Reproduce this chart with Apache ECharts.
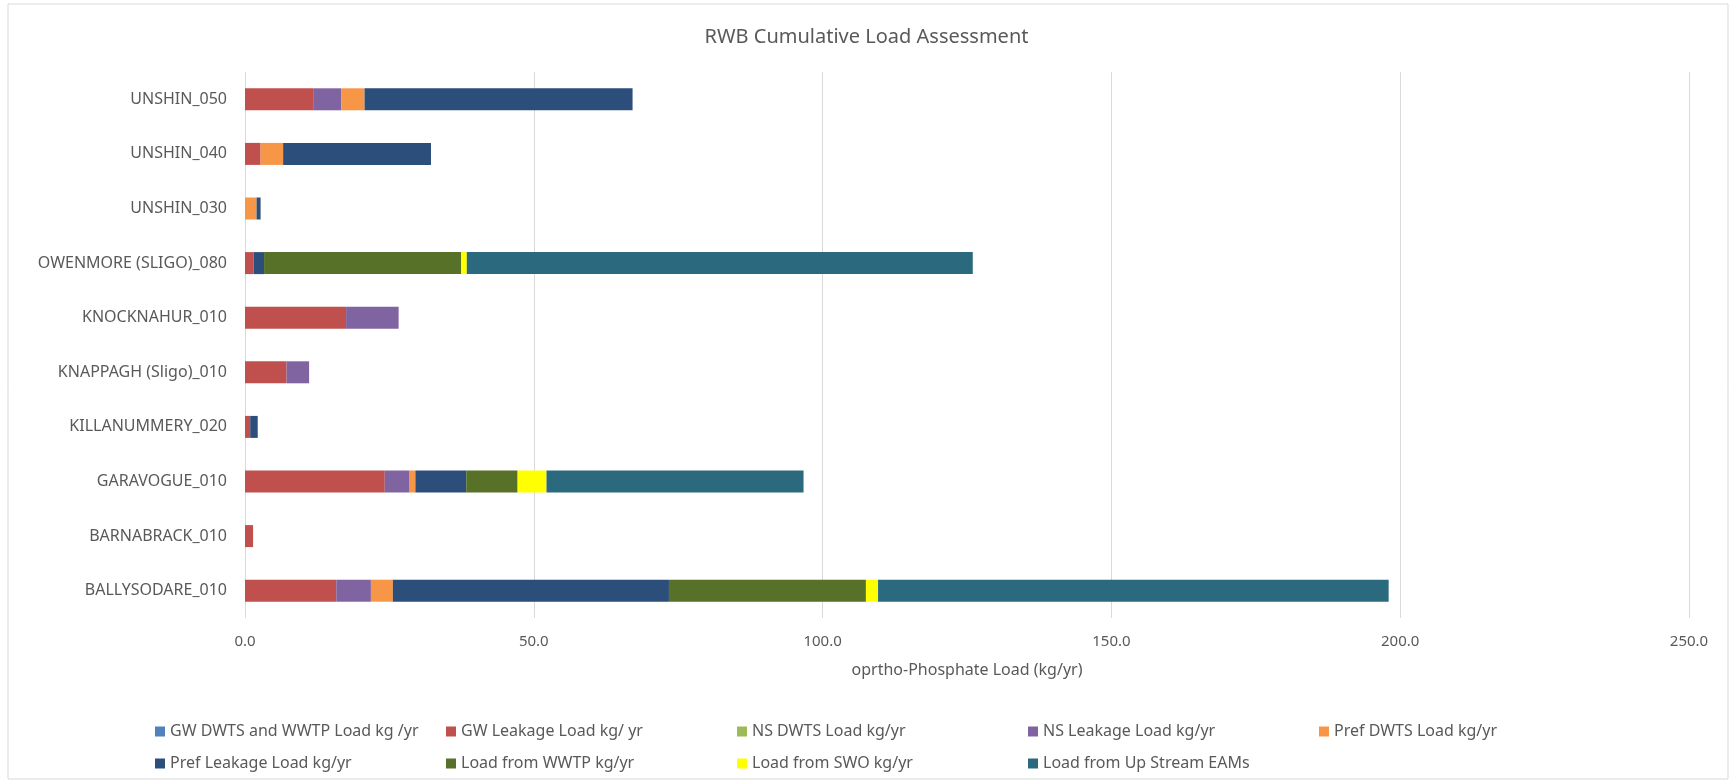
<!DOCTYPE html>
<html>
<head>
<meta charset="utf-8">
<title>RWB Cumulative Load Assessment</title>
<script src="https://cdn.jsdelivr.net/npm/echarts@6/dist/echarts.min.js"></script>
<style>
html, body { margin: 0; padding: 0; background: #fff; }
#chart { width: 1733px; height: 782px; }
</style>
</head>
<body>
<div id="chart"></div>
<script>
// water bodies, bottom to top as in the chart
var categories = ['BALLYSODARE_010', 'BARNABRACK_010', 'GARAVOGUE_010', 'KILLANUMMERY_020',
	'KNAPPAGH (Sligo)_010', 'KNOCKNAHUR_010', 'OWENMORE (SLIGO)_080', 'UNSHIN_030', 'UNSHIN_040', 'UNSHIN_050'];

var gwDwts   = [0, 0, 0, 0, 0, 0, 0, 0, 0, 0];
var gwLeak   = [15.8, 1.4, 24.2, 0.9, 7.2, 17.5, 1.5, 0, 2.7, 11.8];
var nsDwts   = [0, 0, 0, 0, 0, 0, 0, 0, 0, 0];
var nsLeak   = [6.0, 0, 4.3, 0, 3.9, 9.1, 0, 0, 0, 4.9];
var prefDwts = [3.8, 0, 1.0, 0, 0, 0, 0, 2.0, 3.9, 4.0];
var prefLeak = [47.8, 0, 8.8, 1.3, 0, 0, 1.8, 0.7, 25.6, 46.4];
var wwtp     = [34.1, 0, 8.9, 0, 0, 0, 34.1, 0, 0, 0];
var swo      = [2.1, 0, 5.0, 0, 0, 0, 1.0, 0, 0, 0];
var upstream = [88.4, 0, 44.5, 0, 0, 0, 87.6, 0, 0, 0];

var seriesNames = ['GW DWTS and WWTP Load kg /yr', 'GW Leakage Load kg/ yr', 'NS DWTS Load kg/yr',
	'NS Leakage Load kg/yr', 'Pref DWTS Load kg/yr', 'Pref Leakage Load kg/yr',
	'Load from WWTP kg/yr', 'Load from SWO kg/yr', 'Load from Up Stream EAMs'];
var seriesData = [gwDwts, gwLeak, nsDwts, nsLeak, prefDwts, prefLeak, wwtp, swo, upstream];
var colors = ['#4F81BD', '#C0504D', '#9BBB59', '#8064A2', '#F79646', '#2C4E7A', '#587129', '#FFFF00', '#2B6A7E'];

var txt = '#595959';
var font = 'Noto Sans';

var series = [];
for (var i = 0; i < seriesNames.length; i++) {
	series.push({
		name : seriesNames[i],
		type : 'bar',
		stack : 'total',
		barWidth : 22,
		itemStyle : { color : colors[i] },
		data : seriesData[i]
	});
}

var chart = echarts.init(document.getElementById('chart'));
chart.setOption({
	animation : false,
	color : colors,
	textStyle : { fontFamily : font },
	title : {
		text : 'RWB Cumulative Load Assessment',
		left : 'center',
		top : 22,
		textStyle : { fontFamily : font, fontSize : 20, fontWeight : 'normal', color : txt }
	},
	graphic : [ {
		type : 'rect',
		shape : { x : 8, y : 4, width : 1720, height : 775 },
		style : { fill : 'none', stroke : '#d9d9d9', lineWidth : 1 },
		silent : true
	} ],
	legend : {
		left : 150,
		top : 713,
		width : 1480,
		itemWidth : 10,
		itemHeight : 10,
		itemGap : 5,
		icon : 'rect',
		data : seriesNames,
		textStyle : {
			fontFamily : font, fontSize : 16, color : txt,
			width : 271, overflow : 'truncate', lineHeight : 27
		}
	},
	grid : { left : 245, right : 44, top : 72, bottom : 164 },
	xAxis : {
		type : 'value',
		min : 0,
		max : 250,
		interval : 50,
		name : 'oprtho-Phosphate Load (kg/yr)',
		nameLocation : 'middle',
		nameGap : 44,
		nameTextStyle : { fontFamily : font, fontSize : 16, color : txt },
		axisLine : { show : false },
		axisTick : { show : false },
		axisLabel : {
			fontFamily : font, fontSize : 15, color : txt, margin : 16,
			formatter : function(v) { return v.toFixed(1); }
		},
		splitLine : { lineStyle : { color : '#d9d9d9', width : 1 } }
	},
	yAxis : {
		type : 'category',
		data : categories,
		axisLine : { show : false },
		axisTick : { show : false },
		axisLabel : { fontFamily : font, fontSize : 16, color : txt, margin : 18 }
	},
	series : series
});
</script>
</body>
</html>
